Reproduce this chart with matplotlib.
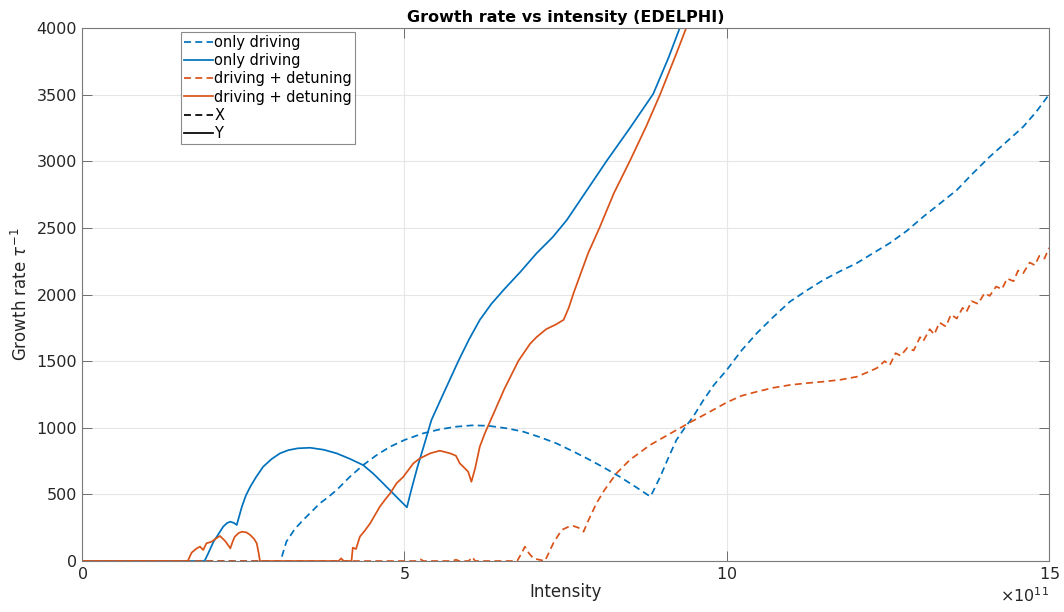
import matplotlib.pyplot as plt

# intensity in units of 1e11, growth rate in 1/tau
only_x_int = [0, 3.08, 3.10, 3.17, 3.30, 3.43, 3.56, 3.69, 3.82, 3.95, 4.15, 4.36, 4.57, 4.78,
              5.0, 5.29, 5.55, 5.8, 6.05, 6.3, 6.6, 6.85, 7.1, 7.36, 7.62, 7.88, 8.1, 8.34,
              8.56, 8.78, 8.82, 8.97, 9.1, 9.22, 9.35, 9.48, 9.64, 9.8, 10.0, 10.23, 10.47,
              10.72, 10.98, 11.24, 11.5, 11.76, 12.02, 12.27, 12.53, 12.8, 13.05, 13.3, 13.57,
              13.8, 14.08, 14.35, 14.6, 14.8, 15.0]
only_x_rate = [0, 0, 33, 145, 240, 308, 370, 433, 480, 533, 630, 720, 795, 858,
               908, 958, 988, 1008, 1018, 1015, 995, 970, 930, 883, 822, 758, 700, 633,
               565, 495, 485, 633, 780, 908, 1000, 1083, 1208, 1320, 1433, 1580, 1711,
               1830, 1946, 2030, 2109, 2175, 2236, 2310, 2386, 2480, 2584, 2680, 2784,
               2900, 3034, 3150, 3259, 3370, 3500]

only_y_int = [0, 1.90, 1.95, 2.04, 2.12, 2.19, 2.25, 2.30, 2.36, 2.40, 2.44, 2.48, 2.54, 2.61,
              2.70, 2.81, 2.94, 3.07, 3.20, 3.35, 3.54, 3.75, 3.95, 4.15, 4.36, 4.52, 4.67,
              4.85, 5.04, 5.10, 5.20, 5.30, 5.42, 5.60, 5.84, 6.0, 6.17, 6.35, 6.55, 6.8,
              7.05, 7.3, 7.52, 7.8, 8.14, 8.5, 8.86, 9.1, 9.28]
only_y_rate = [0, 0, 50, 145, 205, 258, 285, 295, 285, 270, 340, 408, 490, 558,
               630, 708, 765, 808, 832, 846, 850, 835, 808, 768, 720, 655, 583,
               495, 403, 520, 700, 860, 1058, 1250, 1503, 1660, 1809, 1930, 2040, 2170,
               2309, 2430, 2559, 2760, 3004, 3250, 3505, 3780, 4010]

det_x_int = [0, 5.2, 5.25, 5.3, 5.75, 5.8, 5.85, 6.0, 6.05, 6.1, 6.75, 6.82, 6.87, 6.93, 7.0,
             7.18, 7.24, 7.31, 7.44, 7.55, 7.62, 7.70, 7.78, 7.85, 7.98, 8.1, 8.29, 8.5,
             8.81, 9.1, 9.43, 9.7, 10.0, 10.23, 10.47, 10.72, 10.98, 11.24, 11.5, 11.76,
             12.02, 12.2, 12.33, 12.45, 12.53, 12.62, 12.7, 12.8, 12.9, 13.0, 13.05, 13.15,
             13.22, 13.3, 13.4, 13.48, 13.57, 13.66, 13.72, 13.8, 13.9, 14.0, 14.08, 14.18,
             14.27, 14.35, 14.45, 14.52, 14.6, 14.7, 14.78, 14.85, 14.93, 15.0]
det_x_rate = [0, 0, 12, 0, 0, 10, 0, 0, 30, 0, 0, 60, 108, 60, 20,
              0, 60, 133, 233, 258, 263, 250, 220, 300, 433, 530, 658, 760,
              870, 950, 1040, 1110, 1190, 1240, 1271, 1300, 1321, 1335, 1346, 1360,
              1383, 1420, 1448, 1500, 1470, 1560, 1540, 1600, 1580, 1680, 1650, 1740,
              1700, 1790, 1760, 1850, 1820, 1900, 1870, 1950, 1930, 2010, 1990, 2060,
              2040, 2120, 2100, 2180, 2160, 2240, 2220, 2290, 2270, 2350]

det_y_int = [0, 1.64, 1.70, 1.78, 1.83, 1.88, 1.93, 2.01, 2.08, 2.14, 2.22, 2.28, 2.30, 2.34,
             2.37, 2.43, 2.48, 2.55, 2.61, 2.67, 2.71, 2.74, 2.76, 3.98, 4.02, 4.06, 4.18,
             4.20, 4.25, 4.31, 4.39, 4.47, 4.55, 4.62, 4.70, 4.78, 4.88, 4.98, 5.14, 5.24,
             5.40, 5.55, 5.71, 5.80, 5.86, 5.93, 5.99, 6.04, 6.10, 6.17, 6.25, 6.34, 6.55,
             6.77, 6.95, 7.05, 7.2, 7.35, 7.47, 7.55, 7.62, 7.85, 8.03, 8.25, 8.50, 8.75,
             8.97, 9.22, 9.38]
det_y_rate = [0, 0, 63, 95, 108, 83, 133, 145, 170, 188, 150, 110, 95, 150,
              183, 210, 220, 215, 195, 165, 133, 60, 0, 0, 20, 0, 0,
              100, 90, 183, 230, 283, 350, 408, 460, 508, 584, 630, 733, 770,
              808, 828, 808, 790, 733, 700, 670, 595, 700, 858, 960, 1058, 1290,
              1503, 1630, 1680, 1740, 1775, 1810, 1900, 2004, 2309, 2504, 2760, 3004, 3260,
              3505, 3809, 4010]

blue = '#0072BD'
orange = '#D95319'
text_col = '#262626'

plt.rcParams['font.family'] = 'DejaVu Sans'
fig = plt.figure(figsize=(10.64, 6.12), dpi=100)
ax = fig.add_axes([0.0771, 0.0833, 0.9088, 0.8709])

dash = (0, (4, 2.5))
lw = 1.25
ax.plot([v * 1e11 for v in only_x_int], only_x_rate, color=blue, lw=lw, linestyle=dash, label='only driving')
ax.plot([v * 1e11 for v in only_y_int], only_y_rate, color=blue, lw=lw, label='only driving')
ax.plot([v * 1e11 for v in det_x_int], det_x_rate, color=orange, lw=lw, linestyle=dash, label='driving + detuning')
ax.plot([v * 1e11 for v in det_y_int], det_y_rate, color=orange, lw=lw, label='driving + detuning')
ax.plot([], [], color='black', lw=lw, linestyle=dash, label='X')
ax.plot([], [], color='black', lw=lw, label='Y')

ax.set_xlim(0, 15e11)
ax.set_ylim(0, 4000)
ax.set_xticks([0, 5e11, 10e11, 15e11])
ax.set_yticks(range(0, 4001, 500))
ax.ticklabel_format(axis='x', style='sci', scilimits=(11, 11), useMathText=True)
ax.xaxis.get_offset_text().set_fontsize(11.5)
ax.xaxis.get_offset_text().set_color(text_col)

ax.grid(True, color='#e6e6e6', lw=0.8)
ax.set_axisbelow(True)
ax.tick_params(direction='in', length=7, width=0.7, colors='#6e6e6e', labelcolor=text_col,
               labelsize=11.5, top=True, right=True)
for s in ax.spines.values():
    s.set_color('#7a7a7a')
    s.set_linewidth(0.8)

ax.set_title('Growth rate vs intensity (EDELPHI)', fontsize=11.5, fontweight='bold', pad=4)
ax.set_xlabel('Intensity', fontsize=12, color=text_col, labelpad=1)
ax.set_ylabel(r'Growth rate $\tau^{-1}$', fontsize=12, color=text_col, labelpad=4)

leg = ax.legend(loc='upper left', bbox_to_anchor=(0.102, 0.9925), borderaxespad=0,
                fontsize=10.5, frameon=True, fancybox=False, handlelength=2.0,
                handletextpad=0.1, labelspacing=0.22, borderpad=0.2)
leg.get_frame().set_edgecolor('#6e6e6e')
leg.get_frame().set_linewidth(0.8)

fig.savefig('out.png', dpi=100)
